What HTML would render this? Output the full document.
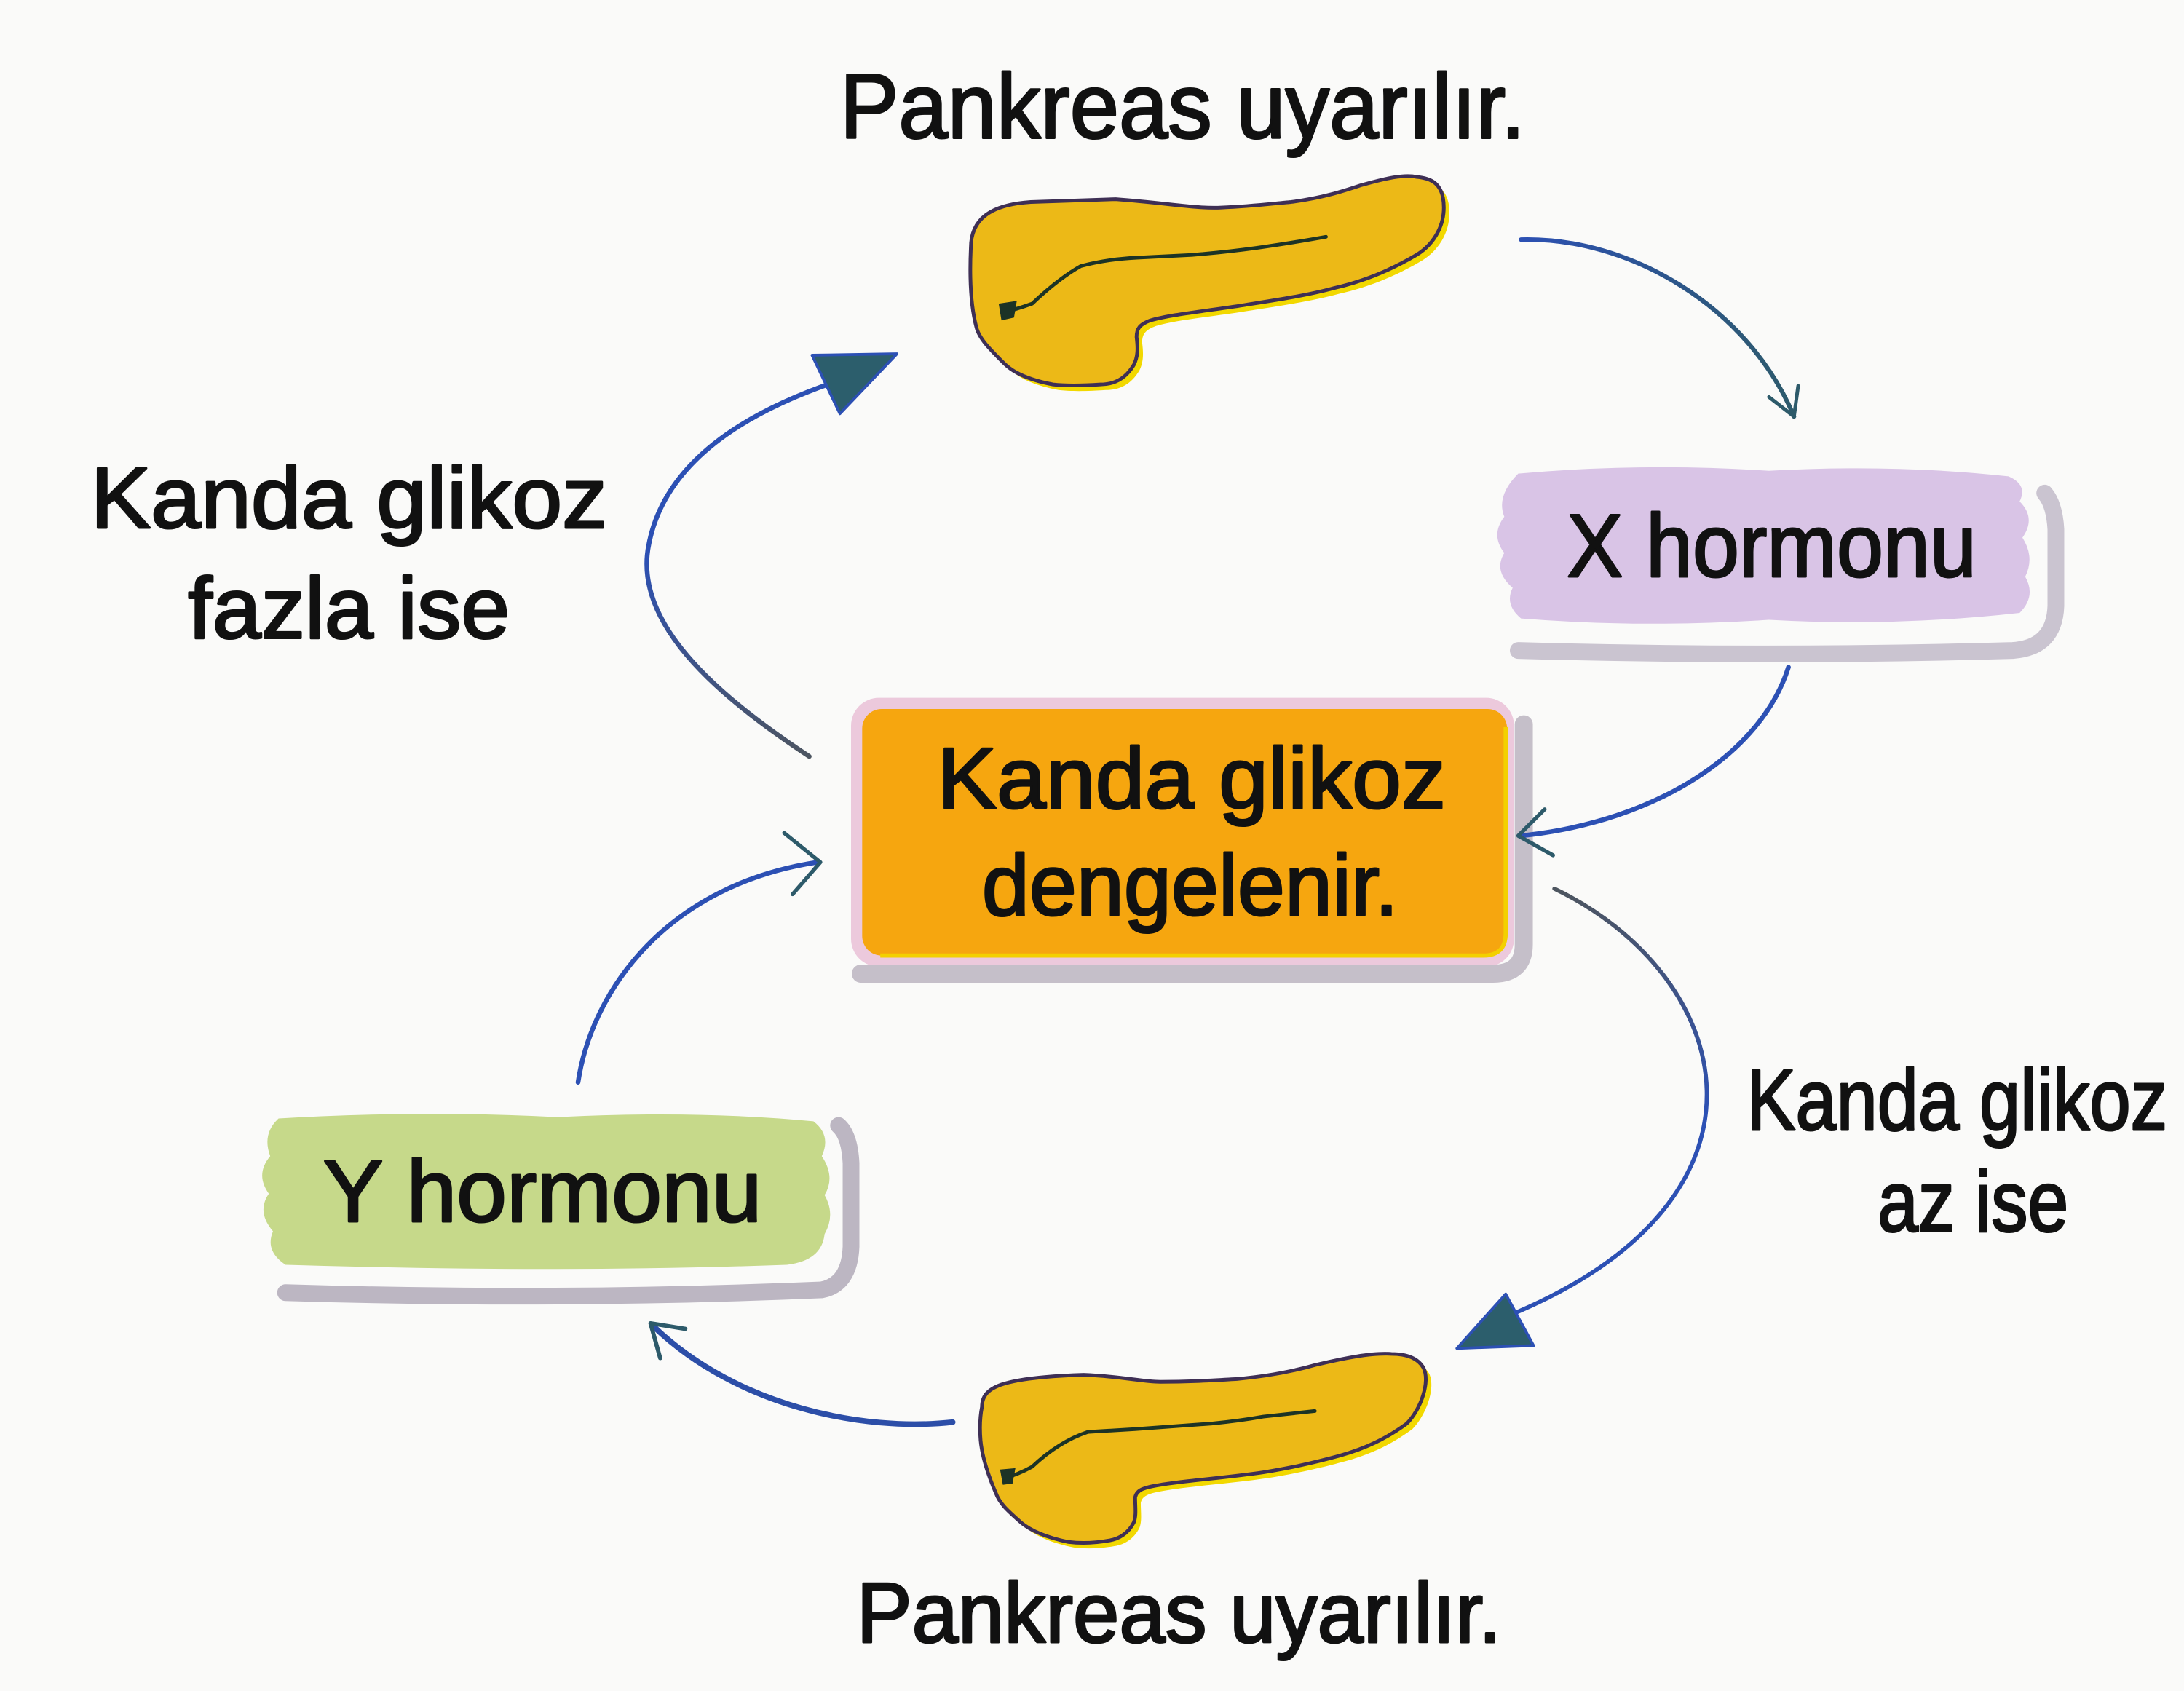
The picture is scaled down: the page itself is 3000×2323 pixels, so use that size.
<!DOCTYPE html>
<html>
<head>
<meta charset="utf-8">
<style>
html,body{margin:0;padding:0;background:#fafaf9;}
svg{display:block;}
.t{font-family:"Liberation Sans",Arial,Helvetica,sans-serif;fill:#111;stroke:#111;stroke-width:1.6;stroke-linejoin:round;}
</style>
</head>
<body>
<svg width="3000" height="2323" viewBox="0 0 1568 1214" preserveAspectRatio="none" xmlns="http://www.w3.org/2000/svg">
<defs>
  <linearGradient id="gL" gradientUnits="userSpaceOnUse" x1="0" y1="545" x2="0" y2="400">
    <stop offset="0" stop-color="#4d5560"/>
    <stop offset="1" stop-color="#2c50b4"/>
  </linearGradient>
  <linearGradient id="gR" gradientUnits="userSpaceOnUse" x1="0" y1="640" x2="0" y2="800">
    <stop offset="0" stop-color="#4d5560"/>
    <stop offset="1" stop-color="#2c50b4"/>
  </linearGradient>
  <linearGradient id="gT" gradientUnits="userSpaceOnUse" x1="1090" y1="0" x2="1290" y2="0">
    <stop offset="0" stop-color="#2c50b4"/>
    <stop offset="1" stop-color="#2d5a6a"/>
  </linearGradient>
</defs>

<rect x="0" y="0" width="1568" height="1214" fill="#fafaf9"/>

<!-- Top text -->
<text class="t" x="603" y="99" font-size="66" textLength="492" lengthAdjust="spacingAndGlyphs">Pankreas uyarılır.</text>

<!-- Top pancreas -->
<g>
  <path transform="translate(4,4)" fill="#f2d800" d="M697,178 C697,158 710,147 740,145 L801,143 C840,146 860,150 877,149 C900,148 915,146 927,145 C950,142 965,137 977,133 C995,128 1008,125 1017,127 C1028,128 1034,132 1036,142 C1039,160 1030,175 1017,183 C995,196 975,203 957,207 C935,213 905,217 887,220 C860,224 840,226 826,230 C818,233 816,236 816,242 C817,250 817,256 814,262 C808,272 800,276 790,276 C775,277 765,277 756,276 C740,273 728,268 721,261 C710,250 703,243 701,235 C697,220 696,200 697,178 Z"/>
  <path fill="#ecb917" stroke="#3e2f55" stroke-width="2.6" d="M697,178 C697,158 710,147 740,145 L801,143 C840,146 860,150 877,149 C900,148 915,146 927,145 C950,142 965,137 977,133 C995,128 1008,125 1017,127 C1028,128 1034,132 1036,142 C1039,160 1030,175 1017,183 C995,196 975,203 957,207 C935,213 905,217 887,220 C860,224 840,226 826,230 C818,233 816,236 816,242 C817,250 817,256 814,262 C808,272 800,276 790,276 C775,277 765,277 756,276 C740,273 728,268 721,261 C710,250 703,243 701,235 C697,220 696,200 697,178 Z"/>
  <path fill="none" stroke="#1c3326" stroke-width="2.6" stroke-linecap="round" d="M721,224 Q730,222 741,218 Q760,200 776,191 Q795,186 816,185 Q836,184 856,183 Q880,181 902,178 Q930,174 952,170"/>
  <path fill="#1c3326" d="M717,218 L730,216 L728,228 L719,230 Z"/>
</g>

<!-- Center box -->
<rect x="611" y="501" width="476" height="193" rx="20" fill="#ecc9dc"/>
<path d="M618,699 H1072 Q1094,699 1094,678 V520" fill="none" stroke="#c5bfc9" stroke-width="13" stroke-linecap="round"/>
<rect x="619" y="509" width="463" height="177" rx="14" fill="#f6a60f"/>
<path d="M1081,522 V670 Q1081,686 1065,686 H632" fill="none" stroke="#f3d000" stroke-width="3"/>
<text class="t" x="673" y="580" font-size="62" textLength="365" lengthAdjust="spacingAndGlyphs">Kanda glikoz</text>
<text class="t" x="705" y="657" font-size="62" textLength="299" lengthAdjust="spacingAndGlyphs">dengelenir.</text>

<!-- X hormonu -->
<path d="M1090,467 Q1270,472 1445,467 Q1475,465 1476,435 L1476,380 Q1475,362 1468,354" fill="none" stroke="#cac4d0" stroke-width="12" stroke-linecap="round"/>
<path fill="#d9c4e6" d="M1090,340 Q1180,332 1270,338 Q1360,333 1442,342 Q1456,348 1450,360 Q1462,372 1452,386 Q1461,400 1454,414 Q1462,428 1450,440 Q1360,450 1270,445 Q1180,451 1092,444 Q1080,434 1086,422 Q1072,410 1080,397 Q1070,384 1080,371 Q1074,356 1090,340 Z"/>
<text class="t" x="1125" y="414" font-size="64" textLength="294" lengthAdjust="spacingAndGlyphs">X hormonu</text>

<!-- Y hormonu -->
<path d="M205,928 Q400,934 590,926 Q610,922 611,895 L611,835 Q610,815 602,808" fill="none" stroke="#bcb6c2" stroke-width="12" stroke-linecap="round"/>
<path fill="#c6d98a" d="M200,803 Q300,797 400,802 Q500,797 584,805 Q597,815 590,830 Q600,845 592,858 Q600,872 592,886 Q590,905 565,908 Q400,914 205,908 Q190,898 196,884 Q184,870 193,857 Q183,843 194,830 Q188,814 200,803 Z"/>
<text class="t" x="232" y="877" font-size="63" textLength="315" lengthAdjust="spacingAndGlyphs">Y hormonu</text>

<!-- Left label -->
<text class="t" x="65" y="379" font-size="62" textLength="371" lengthAdjust="spacingAndGlyphs">Kanda glikoz</text>
<text class="t" x="135" y="458" font-size="62" textLength="231" lengthAdjust="spacingAndGlyphs">fazla ise</text>

<!-- Right label -->
<text class="t" x="1254" y="811" font-size="62" textLength="302" lengthAdjust="spacingAndGlyphs">Kanda glikoz</text>
<text class="t" x="1348" y="884" font-size="62" textLength="137" lengthAdjust="spacingAndGlyphs">az ise</text>

<!-- Bottom pancreas -->
<g>
  <path transform="translate(4,4)" fill="#f2d800" d="M705,1010 C705,996 718,989 778,987 C805,988 820,992 833,992 C855,992 870,991 888,990 C910,988 930,984 944,980 C965,975 985,971 999,972 C1010,972 1018,975 1022,982 C1027,992 1020,1012 1010,1022 C995,1033 980,1040 962,1045 C940,1051 925,1054 907,1057 C880,1061 850,1063 833,1066 C820,1068 816,1070 815,1075 C815,1082 816,1088 814,1093 C810,1101 803,1105 796,1106 C785,1108 775,1108 767,1107 C752,1104 740,1099 733,1093 C724,1085 718,1080 715,1072 C709,1058 705,1045 704,1034 C703,1022 704,1015 705,1010 Z"/>
  <path fill="#ecb917" stroke="#3e2f55" stroke-width="2.6" d="M705,1010 C705,996 718,989 778,987 C805,988 820,992 833,992 C855,992 870,991 888,990 C910,988 930,984 944,980 C965,975 985,971 999,972 C1010,972 1018,975 1022,982 C1027,992 1020,1012 1010,1022 C995,1033 980,1040 962,1045 C940,1051 925,1054 907,1057 C880,1061 850,1063 833,1066 C820,1068 816,1070 815,1075 C815,1082 816,1088 814,1093 C810,1101 803,1105 796,1106 C785,1108 775,1108 767,1107 C752,1104 740,1099 733,1093 C724,1085 718,1080 715,1072 C709,1058 705,1045 704,1034 C703,1022 704,1015 705,1010 Z"/>
  <path fill="none" stroke="#1c3326" stroke-width="2.6" stroke-linecap="round" d="M722,1061 Q732,1058 741,1053 Q760,1035 781,1028 Q798,1027 815,1026 Q842,1024 870,1022 Q890,1020 907,1017 Q925,1015 944,1013"/>
  <path fill="#1c3326" d="M718,1055 L729,1054 L727,1065 L720,1066 Z"/>
</g>

<!-- Bottom text -->
<text class="t" x="615" y="1179" font-size="61" textLength="463" lengthAdjust="spacingAndGlyphs">Pankreas uyarılır.</text>

<!-- Arrows -->
<path d="M1092,172 C1170,170 1255,220 1288,299" fill="none" stroke="url(#gT)" stroke-width="3.2" stroke-linecap="round"/>
<polyline points="1270,285 1288,299 1291,277" fill="none" stroke="#2d5a6a" stroke-width="2.6" stroke-linecap="round" stroke-linejoin="round"/>

<path d="M1284,479 C1265,540 1190,590 1092,600" fill="none" stroke="#2c50b4" stroke-width="3.4" stroke-linecap="round"/>
<polyline points="1109,581 1090,600 1115,614" fill="none" stroke="#2d5a6a" stroke-width="2.8" stroke-linecap="round" stroke-linejoin="round"/>

<path d="M1116,638 C1245,700 1290,860 1082,945" fill="none" stroke="url(#gR)" stroke-width="3" stroke-linecap="round"/>
<polygon points="1081,929 1046,968 1101,966" fill="#2c5e6c" stroke="#2c50b4" stroke-width="2" stroke-linejoin="round"/>

<path d="M684,1021 C620,1028 530,1010 470,953" fill="none" stroke="#2c4ea8" stroke-width="4" stroke-linecap="round"/>
<polyline points="492,954 467,950 474,975" fill="none" stroke="#2d5a6a" stroke-width="3" stroke-linecap="round" stroke-linejoin="round"/>

<path d="M415,777 C425,710 480,635 587,619" fill="none" stroke="#2c50b4" stroke-width="3.4" stroke-linecap="round"/>
<polyline points="563,598 589,619 569,642" fill="none" stroke="#2d5a6a" stroke-width="2.8" stroke-linecap="round" stroke-linejoin="round"/>

<path d="M581,543 C500,490 455,440 466,390 C476,340 520,300 606,272" fill="none" stroke="url(#gL)" stroke-width="3.4" stroke-linecap="round"/>
<polygon points="583,255 644,254 603,297" fill="#2c5e6c" stroke="#2c50b4" stroke-width="2" stroke-linejoin="round"/>
</svg>
</body>
</html>
